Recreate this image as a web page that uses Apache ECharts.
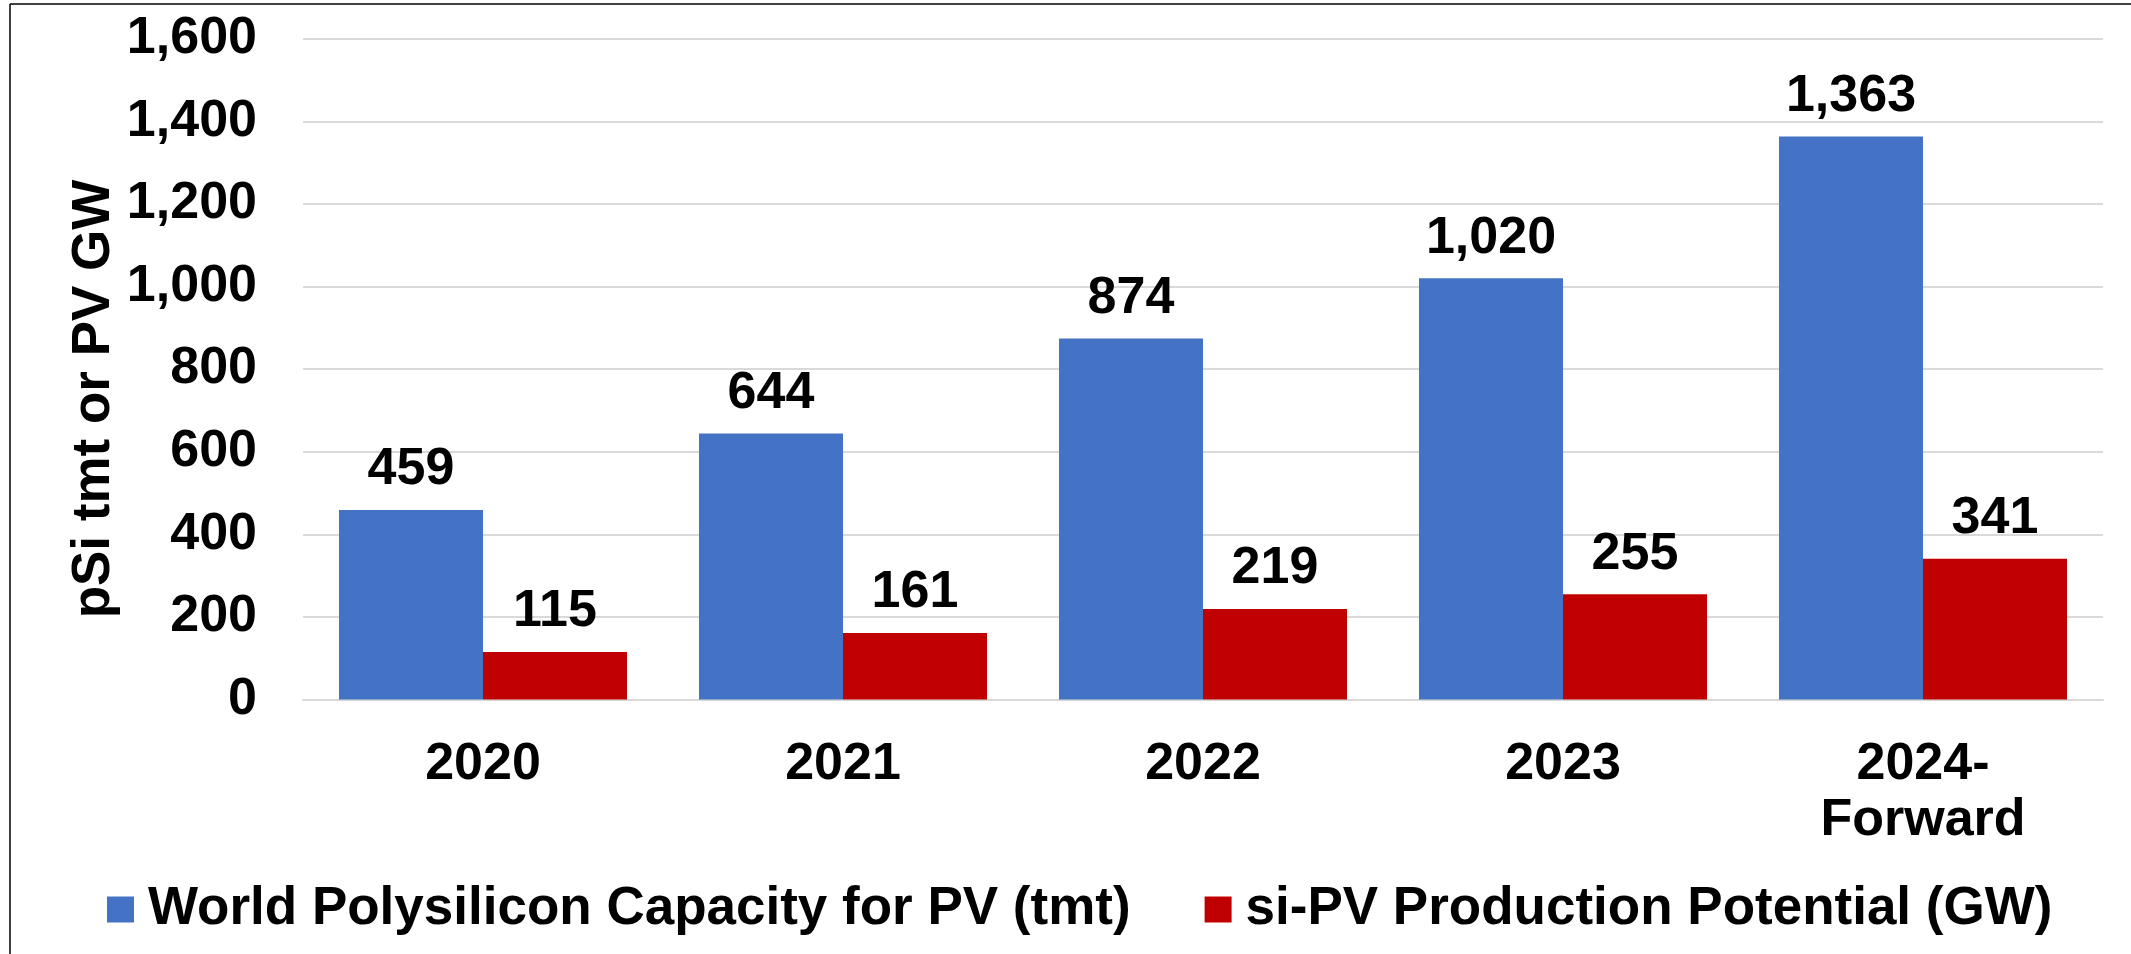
<!DOCTYPE html>
<html>
<head>
<meta charset="utf-8">
<title>Polysilicon capacity and si-PV production potential</title>
<script src="https://cdn.jsdelivr.net/npm/echarts@6/dist/echarts.min.js"></script>
<style>
  html, body { margin: 0; padding: 0; background: #ffffff; }
  #chart { width: 2131px; height: 954px; }
</style>
</head>
<body>
<div id="chart"></div>
<script>
// Categories and series values
const categories = ['2020', '2021', '2022', '2023', '2024-\nForward'];
const polysiliconCapacity = [459, 644, 874, 1020, 1363];   // tmt
const pvProductionPotential = [115, 161, 219, 255, 341];   // GW

// Axis settings
const yMin = 0;
const yMax = 1600;
const yInterval = 200;

const seriesNames = [
  'World Polysilicon Capacity for PV (tmt)',
  'si-PV Production Potential (GW)'
];
const axisTitle = 'pSi tmt or PV GW';

const FONT = '"Liberation Sans", Arial, "DejaVu Sans", sans-serif';
const BLUE = '#4472C4';
const RED = '#C00000';

const fmt = v => Number(v).toLocaleString('en-US');

const chart = echarts.init(document.getElementById('chart'), null, { renderer: 'canvas' });

const labelStyle = {
  show: true,
  position: 'top',
  distance: 14,
  color: '#000',
  fontFamily: FONT,
  fontWeight: 'bold',
  fontSize: 52,
  formatter: p => fmt(p.value)
};

chart.setOption({
  backgroundColor: '#ffffff',
  animation: false,
  grid: { left: 303, right: 28, top: 38.7, bottom: 254.5, containLabel: false },
  legend: {
    left: 102,
    top: 878,
    itemWidth: 27,
    itemHeight: 26,
    itemGap: 74,
    icon: 'rect',
    textStyle: {
      fontFamily: FONT,
      fontWeight: 'bold',
      fontSize: 53,
      color: '#000',
      padding: [0, 0, 0, 9]
    },
    data: seriesNames
  },
  xAxis: {
    type: 'category',
    data: categories,
    axisLine: { show: true, lineStyle: { color: '#d9d9d9', width: 2 } },
    axisTick: { show: false },
    axisLabel: {
      margin: 37,
      color: '#000',
      fontFamily: FONT,
      fontWeight: 'bold',
      fontSize: 52,
      lineHeight: 56
    }
  },
  yAxis: {
    type: 'value',
    min: yMin,
    max: yMax,
    interval: yInterval,
    axisLine: { show: false },
    axisTick: { show: false },
    splitLine: { lineStyle: { color: '#d9d9d9', width: 2 } },
    axisLabel: {
      margin: 46,
      color: '#000',
      fontFamily: FONT,
      fontWeight: 'bold',
      fontSize: 52,
      formatter: v => fmt(v)
    }
  },
  series: [
    {
      name: seriesNames[0],
      type: 'bar',
      data: polysiliconCapacity,
      barGap: '0%',
      barCategoryGap: '20%',
      itemStyle: { color: BLUE },
      label: labelStyle
    },
    {
      name: seriesNames[1],
      type: 'bar',
      data: pvProductionPotential,
      barGap: '0%',
      barCategoryGap: '20%',
      itemStyle: { color: RED },
      label: labelStyle
    }
  ],
  graphic: [
    // vertical axis title
    {
      type: 'text',
      x: 94,
      y: 399,
      rotation: Math.PI / 2,
      style: {
        text: axisTitle,
        fontFamily: FONT,
        fontWeight: 'bold',
        fontSize: 53,
        fill: '#000',
        textAlign: 'center',
        textVerticalAlign: 'middle'
      }
    },
    // frame edges on the left and top
    {
      type: 'line',
      shape: { x1: 10, y1: 4, x2: 2131, y2: 4 },
      style: { stroke: '#000', lineWidth: 1.5 }
    },
    {
      type: 'line',
      shape: { x1: 10, y1: 4, x2: 10, y2: 954 },
      style: { stroke: '#000', lineWidth: 1.5 }
    }
  ]
});
</script>
</body>
</html>
